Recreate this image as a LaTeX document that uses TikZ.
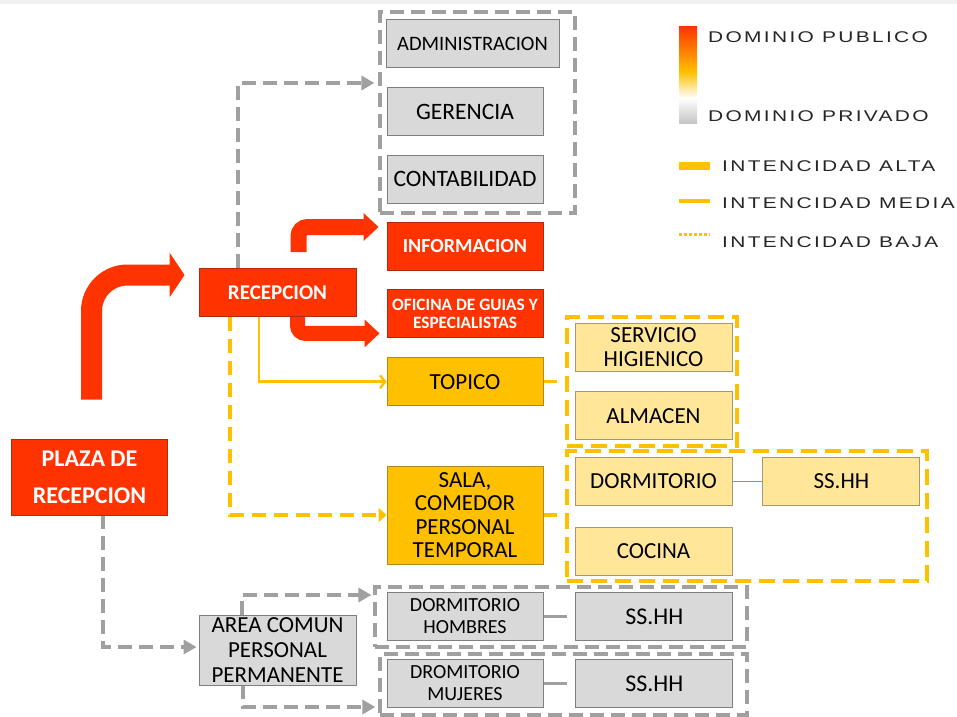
\documentclass[tikz,border=0pt]{standalone}
\usepackage{fontspec}
\setmainfont{Carlito}
\newfontfamily\legendfont[FakeStretch=1.35, LetterSpace=15]{Liberation Sans}
\usetikzlibrary{positioning, fit, arrows.meta, calc, backgrounds}

\definecolor{rojo}{HTML}{FF3300}
\definecolor{rojoborde}{HTML}{B22A0C}
\definecolor{ambar}{HTML}{FFC000}
\definecolor{ambarborde}{HTML}{B08A1E}
\definecolor{crema}{HTML}{FFE699}
\definecolor{cremaborde}{HTML}{A8976A}
\definecolor{gris}{HTML}{D9D9D9}
\definecolor{grisborde}{HTML}{7F7F7F}
\definecolor{grislinea}{HTML}{A0A0A0}
\definecolor{azul}{HTML}{5B9BD5}

\begin{document}
\begin{tikzpicture}[
    x=1pt, y=-1pt,
    >=Triangle,
    node distance=19pt and 30pt,
    box/.style={
        rectangle,
        draw,
        line width=0.9pt,
        minimum width=156pt,
        minimum height=48pt,
        inner sep=2pt,
        align=center,
        text=black,
        font=\fontsize{23}{24}\selectfont
    },
    publico/.style={
        box,
        fill=rojo,
        draw=rojoborde,
        text=white,
        font=\bfseries\fontsize{20}{22}\selectfont
    },
    alta/.style={
        box,
        fill=ambar,
        draw=ambarborde
    },
    media/.style={
        box,
        fill=crema,
        draw=cremaborde
    },
    privado/.style={
        box,
        fill=gris,
        draw=grisborde
    },
    grupo/.style={
        rectangle,
        draw=grislinea,
        line width=3.2pt,
        dash pattern=on 14pt off 7pt,
        inner sep=0pt
    },
    grupoamb/.style={
        grupo,
        draw=ambar,
        dash pattern=on 16pt off 8pt
    },
    bigarrow/.style={
        -{Triangle[length=15pt, width=44pt]},
        draw=rojo,
        line width=21pt,
        rounded corners=36pt
    },
    redarrow/.style={
        -{Triangle[length=15pt, width=27pt]},
        draw=rojo,
        line width=16pt,
        rounded corners=9pt
    },
    medialinea/.style={
        -{Straight Barb[length=5pt, width=13pt, line width=2.4pt]},
        draw=ambar,
        line width=2.8pt
    },
    bajalinea/.style={
        -{Triangle[length=8pt, width=14pt]},
        draw=ambar,
        line width=3.2pt,
        dash pattern=on 14pt off 8pt
    },
    privlinea/.style={
        -{Triangle[length=13pt, width=14pt]},
        draw=grislinea,
        line width=3.2pt,
        dash pattern=on 14pt off 7pt
    },
    leyenda/.style={
        inner sep=0pt,
        anchor=west,
        text=black!85,
        font=\legendfont\fontsize{15.5}{15.5}\selectfont
    }
]
    \useasboundingbox (0,0) rectangle (957,716);
    \fill[gray!12] (0,0) rectangle (957,4);

    % Plaza y recepcion
    \node[publico, minimum height=76pt, font=\bfseries\fontsize{24}{37}\selectfont] (plaza) at (89.5,477) {PLAZA DE\\RECEPCION};
    \node[publico, minimum width=157pt, font=\bfseries\fontsize{21}{22}\selectfont] (recep) at (277.5,292.5) {RECEPCION};

    % Administracion
    \node[privado, minimum width=173pt, font=\fontsize{20.5}{22}\selectfont] (admin) at (472.5,43.5) {ADMINISTRACION};
    \node[privado, font=\fontsize{23.5}{24}\selectfont] (geren) at (465,111.5) {GERENCIA};
    \node[privado, below=of geren, font=\fontsize{23.5}{24}\selectfont] (conta) {CONTABILIDAD};

    % Dominio publico
    \node[publico] (info) at (465,246) {INFORMACION};
    \node[publico, below=of info, font=\bfseries\fontsize{17.3}{18}\selectfont] (ofic) {OFICINA DE GUIAS Y\\ESPECIALISTAS};
    \node[alta, below=of ofic] (topico) {TOPICO};
    \node[alta, minimum height=98pt, font=\fontsize{23}{23.5}\selectfont] (sala) at (465,515) {SALA,\\COMEDOR\\PERSONAL\\TEMPORAL};

    % Servicios
    \node[media, minimum width=157pt] (shig) at (653.5,347) {SERVICIO\\HIGIENICO};
    \node[media, minimum width=157pt, below=20pt of shig] (almacen) {ALMACEN};
    \node[media, minimum width=157pt] (dorm) at (653.5,481.5) {DORMITORIO};
    \node[media, minimum width=157pt, right=of dorm] (sshh1) {SS.HH};
    \node[media, minimum width=157pt, below=21pt of dorm] (cocina) {COCINA};

    % Personal permanente
    \node[privado, minimum height=70pt, minimum width=157pt, font=\fontsize{23}{25}\selectfont] (area) at (277.5,650) {AREA COMUN\\PERSONAL\\PERMANENTE};
    \node[privado, font=\fontsize{20}{22}\selectfont] (dormh) at (465,616.5) {DORMITORIO\\HOMBRES};
    \node[privado, minimum width=157pt, right=32pt of dormh, font=\fontsize{24}{24}\selectfont] (sshh2) {SS.HH};
    \node[privado, below=18pt of dormh, font=\fontsize{20}{22}\selectfont] (dormm) {DROMITORIO\\MUJERES};
    \node[privado, minimum width=157pt, right=32pt of dormm, font=\fontsize{24}{24}\selectfont] (sshh3) {SS.HH};

    \begin{scope}[on background layer]
        \node[grupo, fit={(380,12) (575,213)}] (admgrp) {};
        \node[grupoamb, fit={(567,317) (737,446)}] (shgrp) {};
        \node[grupoamb, fit={(567,451) (927,581)}] (tempgrp) {};
        \node[grupo, fit={(375,587) (747,647)}] (grph) {};
        \node[grupo, fit={(380,654) (747,715)}] (grpm) {};

        % Connections
        \draw[bigarrow] ([xshift=2pt, yshift=39pt]plaza.north) |- ([xshift=-14pt, yshift=17.5pt]recep.west);
        \draw[redarrow] ([xshift=21pt, yshift=16pt]recep.north) |- ([xshift=-8pt, yshift=19pt]info.west);
        \draw[redarrow, line width=15pt, rounded corners=8pt] ([xshift=20pt, yshift=2pt]recep.south) |- ([xshift=-7pt, yshift=-19.5pt]ofic.west);
        \draw[medialinea] ([xshift=-18.5pt]recep.south) |- (topico.west);
        \draw[bajalinea] ([xshift=-47.5pt]recep.south) |- (sala.west);
        \draw[privlinea] ([xshift=-39.5pt]recep.north) |- ([xshift=-4pt, yshift=29.5pt]admgrp.west);
        \draw[privlinea] ([xshift=13.5pt]plaza.south) |- ([xshift=-2pt, yshift=3pt]area.west);
        \draw[privlinea] ([xshift=-35.5pt]area.north) |- ([xshift=-2pt, yshift=22pt]grph.west);
        \draw[privlinea] ([xshift=-34.5pt]area.south) |- ([xshift=-3pt, yshift=-22.5pt]grpm.west);

        % Enlaces internos
        \draw[bajalinea, -] (topico.east) -- (topico.east -| shgrp.west);
        \draw[bajalinea, -] (sala.east) -- (sala.east -| tempgrp.west);
        \draw[azul, line width=1.3pt] (dorm) -- (sshh1);
        \draw[grislinea, line width=3pt, shorten >=8pt] (dormh) -- (sshh2);
        \draw[grislinea, line width=3pt, shorten >=8pt] (dormm) -- (sshh3);
    \end{scope}

    % Leyenda
    \shade[top color=rojo, bottom color=ambar] (679,26) rectangle (697,72);
    \shade[top color=ambar, bottom color=white] (679,72) rectangle (697,98);
    \shade[top color=white, bottom color=gray!45] (679,98) rectangle (697,123);
    \node[leyenda] (pub) at (708,37) {DOMINIO PUBLICO};
    \node[leyenda] (priv) at (708,116) {DOMINIO PRIVADO};
    \draw[ambar, line width=8pt] (679,166) -- (710,166);
    \draw[ambar, line width=4pt] (679,201) -- (710,201);
    \draw[ambar, line width=3pt, dash pattern=on 3pt off 2pt] (679,234) -- (710,234);
    \node[leyenda] (ialta) at (722,166) {INTENCIDAD ALTA};
    \node[leyenda] (imedia) at (722,203) {INTENCIDAD MEDIA};
    \node[leyenda] (ibaja) at (722,242) {INTENCIDAD BAJA};

\end{tikzpicture}
\end{document}
